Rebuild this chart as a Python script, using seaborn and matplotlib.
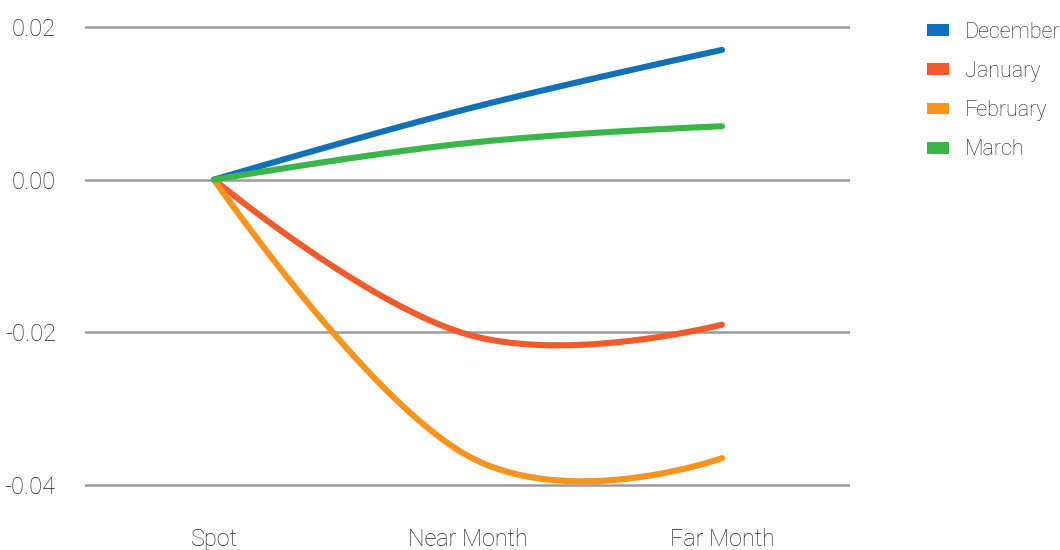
import numpy as np
import pandas as pd
import matplotlib
matplotlib.use("Agg")
import matplotlib.pyplot as plt
from matplotlib.patches import Patch
import seaborn as sns

# Term-structure change relative to spot
tenors = ["Spot", "Near Month", "Far Month"]
months = ["December", "January", "February", "March"]
december = [0.0, 0.0093, 0.0170]
january = [0.0, -0.0203, -0.0190]
february = [0.0, -0.0362, -0.0365]
march = [0.0, 0.0048, 0.0070]
colors = ["#1170ba", "#f15a2b", "#f7941e", "#3ab54a"]
y_ticks = [-0.04, -0.02, 0.00, 0.02]


def spline_path(xs, ys, smoothing=1.5, steps=80):
    """Cubic Bezier spline through the points (first/last control = point)."""
    n = len(xs)
    left = [(xs[i], ys[i]) for i in range(n)]
    right = [(xs[i], ys[i]) for i in range(n)]
    for i in range(1, n - 1):
        x, y = xs[i], ys[i]
        lx, ly = xs[i - 1], ys[i - 1]
        nx, ny = xs[i + 1], ys[i + 1]
        lcx = (smoothing * x + lx) / (smoothing + 1)
        lcy = (smoothing * y + ly) / (smoothing + 1)
        rcx = (smoothing * x + nx) / (smoothing + 1)
        rcy = (smoothing * y + ny) / (smoothing + 1)
        if rcx != lcx:
            corr = (rcy - lcy) * (rcx - x) / (rcx - lcx) + y - rcy
            lcy += corr
            rcy += corr
        left[i] = (lcx, lcy)
        right[i] = (rcx, rcy)
    out_x, out_y = [xs[0]], [ys[0]]
    t = np.linspace(0, 1, steps)[1:]
    for i in range(1, n):
        p0 = (xs[i - 1], ys[i - 1])
        p1 = right[i - 1]
        p2 = left[i]
        p3 = (xs[i], ys[i])
        a, b, c, d = (1 - t) ** 3, 3 * (1 - t) ** 2 * t, 3 * (1 - t) * t ** 2, t ** 3
        out_x.extend(a * p0[0] + b * p1[0] + c * p2[0] + d * p3[0])
        out_y.extend(a * p0[1] + b * p1[1] + c * p2[1] + d * p3[1])
    return np.array(out_x), np.array(out_y)


sns.set_theme(style="white")
plt.rcParams["font.family"] = ["Roboto", "DejaVu Sans"]
plt.rcParams["font.weight"] = "light"

fig = plt.figure(figsize=(10.6, 5.5), dpi=100)
ax = fig.add_axes([85 / 1060, 0.1044, 765 / 1060, 0.8604])

positions = np.arange(len(tenors))
for name, vals, col in zip(months, [december, january, february, march], colors):
    sx, sy = spline_path(positions, vals)
    df = pd.DataFrame({"x": sx, "y": sy})
    sns.lineplot(data=df, x="x", y="y", sort=False, estimator=None, ax=ax,
                 color=col, linewidth=4.4, solid_capstyle="round",
                 legend=False, zorder=3)

ax.set_xlim(-0.508, 2.504)
ax.set_ylim(-0.041, 0.021)
ax.set_yticks(y_ticks)
ax.set_yticklabels([f"{v:.2f}" for v in y_ticks])
ax.set_xticks(positions)
ax.set_xticklabels(tenors)
ax.set_xlabel("")
ax.set_ylabel("")
ax.grid(axis="y", color="#9a9a9a", linewidth=1.8)
ax.grid(axis="x", visible=False)
ax.set_axisbelow(True)
for s in ax.spines.values():
    s.set_visible(False)
ax.tick_params(axis="y", length=0, pad=21, labelsize=17, labelcolor="#222222")
ax.tick_params(axis="x", length=0, pad=25.5, labelsize=16.8, labelcolor="#222222")

handles = [Patch(facecolor=c, edgecolor="none") for c in colors]
fig.legend(handles, months, loc="upper left",
           bbox_to_anchor=(927 / 1060, 1 - 22 / 550),
           frameon=False, fontsize=15.5, borderpad=0, borderaxespad=0,
           handlelength=1.02, handleheight=0.47, handletextpad=0.74,
           labelspacing=0.84, labelcolor="#222222")

fig.savefig("out.png", dpi=100)
